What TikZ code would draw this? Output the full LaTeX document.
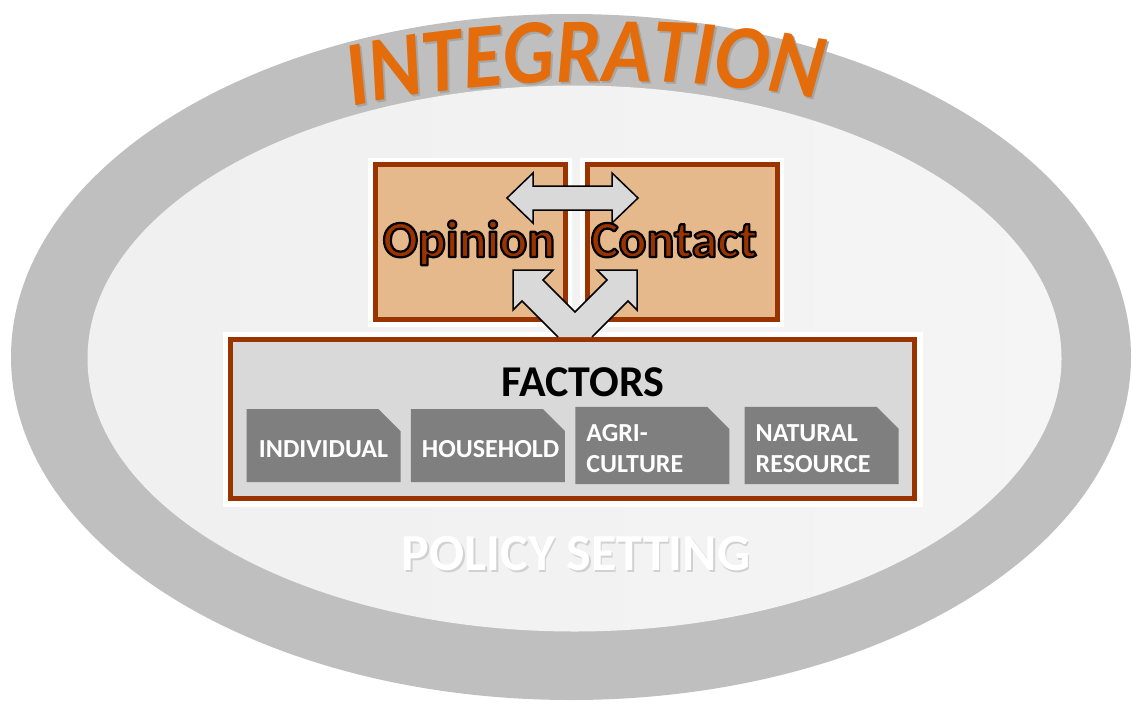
\documentclass[tikz,border=0pt]{standalone}
\usepackage{fontspec}
\setmainfont{Carlito}
\newfontfamily\integfont{Carlito}[FakeStretch=0.88]
\usetikzlibrary{positioning,shapes.misc,decorations.text}
\definecolor{bandgray}{HTML}{BFBFBF}
\definecolor{rust}{HTML}{993300}
\definecolor{tan}{HTML}{E6B98D}
\definecolor{arrowgray}{HTML}{D9D9D9}
\definecolor{subgray}{HTML}{7F7F7F}
\definecolor{integ}{HTML}{E46C0A}
\newcommand{\outlined}[1]{\special{pdf:literal direct 0 0 0 RG 2.2 w 1 j 2 Tr}#1\special{pdf:literal direct 0 Tr}}

\begin{document}
\begin{tikzpicture}[x=1pt, y=-1pt, node distance=10pt,
	panel/.style={draw=rust, line width=5pt, fill=tan, minimum width=190pt, minimum height=155pt, inner sep=0pt, preaction={draw=white, line width=14pt}},
	factor/.style={chamfered rectangle, chamfered rectangle corners=north east, chamfered rectangle sep=11pt, fill=subgray, text=white, minimum width=153pt, minimum height=73pt, text width=132pt, text height=24pt, inner sep=0pt, font=\fontsize{26}{31}\selectfont\bfseries},
	word/.style={font=\fontsize{52}{52}\selectfont\bfseries, anchor=base},
	blockarrow/.style={draw=black, line width=1.5pt, line join=miter}]
	\useasboundingbox (0,0) rectangle (1132,704);
	
	% policy setting ring
	\fill[bandgray] (571,357) ellipse [x radius=560pt, y radius=343pt];
	\shade[left color=black!6, right color=black!4] (574.5,358.5) ellipse [x radius=487pt, y radius=273pt];
	
	\path[decorate, decoration={text along path, text={|\integfont\fontsize{92}{92}\selectfont\bfseries\itshape\color{black!35}|INTEGRATION}, text align=center}] (347,110) .. controls (482,78) and (692,74) .. (828,103);
	\path[decorate, decoration={text along path, text={|\integfont\fontsize{92}{92}\selectfont\bfseries\itshape\color{integ}|INTEGRATION}, text align=center}] (345,108) .. controls (480,76) and (690,72) .. (826,101);
	
	\node[panel](opinion) at (470,242){};
	\node[panel, right=17pt of opinion](contact){};
	\node[word, text=rust](optxt) at (469,257){\outlined{Opinion}};
	\node[word, text=rust](cotxt) at (674,257){\outlined{Contact}};
	
	\draw[blockarrow, fill=arrowgray] (507,198) -- (533,173) -- (533,186) -- (612,186) -- (612,173) -- (638,198) -- (612,223) -- (612,210) -- (533,210) -- (533,223) -- cycle;
	
	\node[panel, fill=arrowgray, minimum width=684pt, minimum height=159pt, preaction={draw=white, line width=16pt}](factors) at (572.5,419){};
	\fill[arrowgray] (558,337) -- (522,301) -- (513,310) -- (513,270) -- (553,270) -- (543,280) -- (575,312) -- (607,280) -- (597,270) -- (637,270) -- (637,310) -- (628,301) -- (592,337) -- cycle;
	\draw[blockarrow] (558,337) -- (522,301) -- (513,310) -- (513,270) -- (553,270) -- (543,280) -- (575,312) -- (607,280) -- (597,270) -- (637,270) -- (637,310) -- (628,301) -- (592,337);
	\node[word, font=\fontsize{44}{44}\selectfont\bfseries](factorstxt) at (583,396){FACTORS};
	
	\node[factor, align=center](individual) at (323.5,445.5){INDIVIDUAL};
	\node[factor, align=center, right=of individual](household){HOUSEHOLD};
	\node[factor, align=left, right=of household](agriculture){AGRI-\\CULTURE};
	\node[factor, align=left, right=15pt of agriculture](natural){NATURAL\\RESOURCE};
	
	\node[word, text=black!18](policyshadow) at (577.5,572.5){POLICY SETTING};
	\node[word, text=white](policy) at (576,570){POLICY SETTING};
\end{tikzpicture}
\end{document}
